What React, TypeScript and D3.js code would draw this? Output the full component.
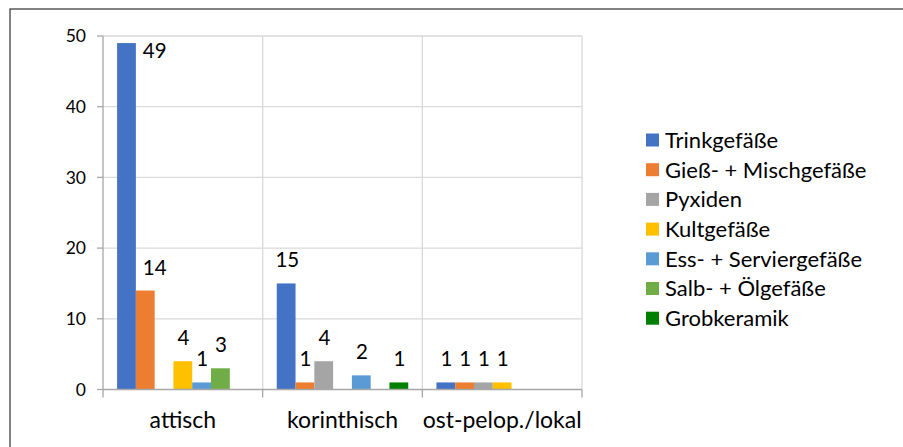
import React from "react";
import * as d3 from "d3";

const categories = ["attisch", "korinthisch", "ost-pelop./lokal"];
const seriesNames = [
  "Trinkgefäße",
  "Gieß- + Mischgefäße",
  "Pyxiden",
  "Kultgefäße",
  "Ess- + Serviergefäße",
  "Salb- + Ölgefäße",
  "Grobkeramik",
];
const trinkgefaesse = [49, 15, 1];
const giessMischgefaesse = [14, 1, 1];
const pyxiden = [0, 4, 1];
const kultgefaesse = [4, 0, 1];
const essServiergefaesse = [1, 2, 0];
const salbOelgefaesse = [3, 0, 0];
const grobkeramik = [0, 1, 0];
const seriesValues = [
  trinkgefaesse,
  giessMischgefaesse,
  pyxiden,
  kultgefaesse,
  essServiergefaesse,
  salbOelgefaesse,
  grobkeramik,
];
const colors = ["#4472C4", "#ED7D31", "#A5A5A5", "#FFC000", "#5B9BD5", "#70AD47", "#008000"];
const yTicks = [0, 10, 20, 30, 40, 50];

const W = 903;
const H = 447;
const FONT = "Lato, 'Open Sans', sans-serif";

export default function App() {
  const plot = { left: 103, right: 582, top: 36, bottom: 389.5 };
  const y = d3.scaleLinear().domain([0, 50]).range([plot.bottom, plot.top]);
  const x0 = d3.scaleBand<string>().domain(categories).range([plot.left, plot.right]);
  const x1 = d3
    .scaleBand<string>()
    .domain(seriesNames)
    .range([0, x0.bandwidth()])
    .paddingInner(0)
    .paddingOuter(0.75);
  const bw = x1.bandwidth();
  const boundaries = [...categories.map((c) => x0(c)!), plot.right];

  const labelSize = 20.5;
  const digitW = labelSize * 0.52;
  const labels: { x: number; y: number; text: string; anchor: string }[] = [];
  categories.forEach((c, ci) => {
    seriesNames.forEach((s, si) => {
      const v = seriesValues[si][ci];
      if (!v) return;
      const bx = x0(c)! + x1(s)!;
      const text = String(v);
      const tw = text.length * digitW;
      let cx = bx + bw / 2;
      let baseline = y(v) - 16;
      let left = cx - tw / 2;
      // no room above plot top: put beside the bar
      if (baseline - labelSize * 0.7 < plot.top) {
        baseline = y(v) + 15;
        left = bx + bw + 7;
      } else if (si > 0) {
        const pv = seriesValues[si - 1][ci];
        const prevRight = bx;
        if (pv && y(pv) < baseline && left < prevRight) left = prevRight + 7;
      }
      labels.push({ x: left, y: baseline, text, anchor: "start" });
    });
  });

  const legendX = 646;
  const legendY0 = 140;
  const legendStep = 29.7;

  return (
    <svg
      width={W}
      height={H}
      style={{ position: "absolute", left: 0, top: 0, background: "#fff" }}
      fontFamily={FONT}
    >
      <rect x={0} y={0} width={W} height={H} fill="#fff" />
      <rect x={10} y={9} width={W + 20} height={H + 20} fill="#fff" stroke="#404040" strokeWidth={1.3} />
      {yTicks.map((t) =>
        t === 0 ? null : (
          <line key={"g" + t} x1={plot.left} x2={plot.right} y1={y(t)} y2={y(t)} stroke="#D9D9D9" strokeWidth={1.3} />
        )
      )}
      {boundaries.slice(1).map((bx, i) => (
        <line key={"vg" + i} x1={bx} x2={bx} y1={plot.top} y2={plot.bottom} stroke="#D9D9D9" strokeWidth={1.3} />
      ))}
      {seriesNames.map((s, si) =>
        categories.map((c, ci) => {
          const v = seriesValues[si][ci];
          if (!v) return null;
          return (
            <rect
              key={s + c}
              x={x0(c)! + x1(s)!}
              y={y(v)}
              width={bw}
              height={y(0) - y(v)}
              fill={colors[si]}
            />
          );
        })
      )}
      <line x1={plot.left} x2={plot.left} y1={plot.top} y2={plot.bottom} stroke="#A6A6A6" strokeWidth={1.3} />
      <line x1={plot.left} x2={plot.right} y1={plot.bottom} y2={plot.bottom} stroke="#A6A6A6" strokeWidth={1.3} />
      {yTicks.map((t) => (
        <g key={"t" + t}>
          <line x1={plot.left - 6} x2={plot.left} y1={y(t)} y2={y(t)} stroke="#A6A6A6" strokeWidth={1.3} />
          <text x={86} y={y(t)} dy="0.36em" textAnchor="end" fontSize={17.5} fill="#000">
            {t}
          </text>
        </g>
      ))}
      {boundaries.map((bx, i) => (
        <line key={"xt" + i} x1={bx} x2={bx} y1={plot.bottom} y2={plot.bottom + 8} stroke="#A6A6A6" strokeWidth={1.3} />
      ))}
      {categories.map((c) => (
        <text key={c} x={x0(c)! + x0.bandwidth() / 2} y={428} textAnchor="middle" fontSize={23} fill="#000">
          {c}
        </text>
      ))}
      {labels.map((l, i) => (
        <text key={"l" + i} x={l.x} y={l.y} textAnchor={l.anchor as any} fontSize={labelSize} fill="#000">
          {l.text}
        </text>
      ))}
      {seriesNames.map((s, si) => (
        <g key={"lg" + s} transform={`translate(${legendX},${legendY0 + si * legendStep})`}>
          <rect x={0} y={-6.5} width={13} height={13} fill={colors[si]} />
          <text x={19} y={0} dy="0.36em" fontSize={22} fill="#000">
            {s}
          </text>
        </g>
      ))}
    </svg>
  );
}
